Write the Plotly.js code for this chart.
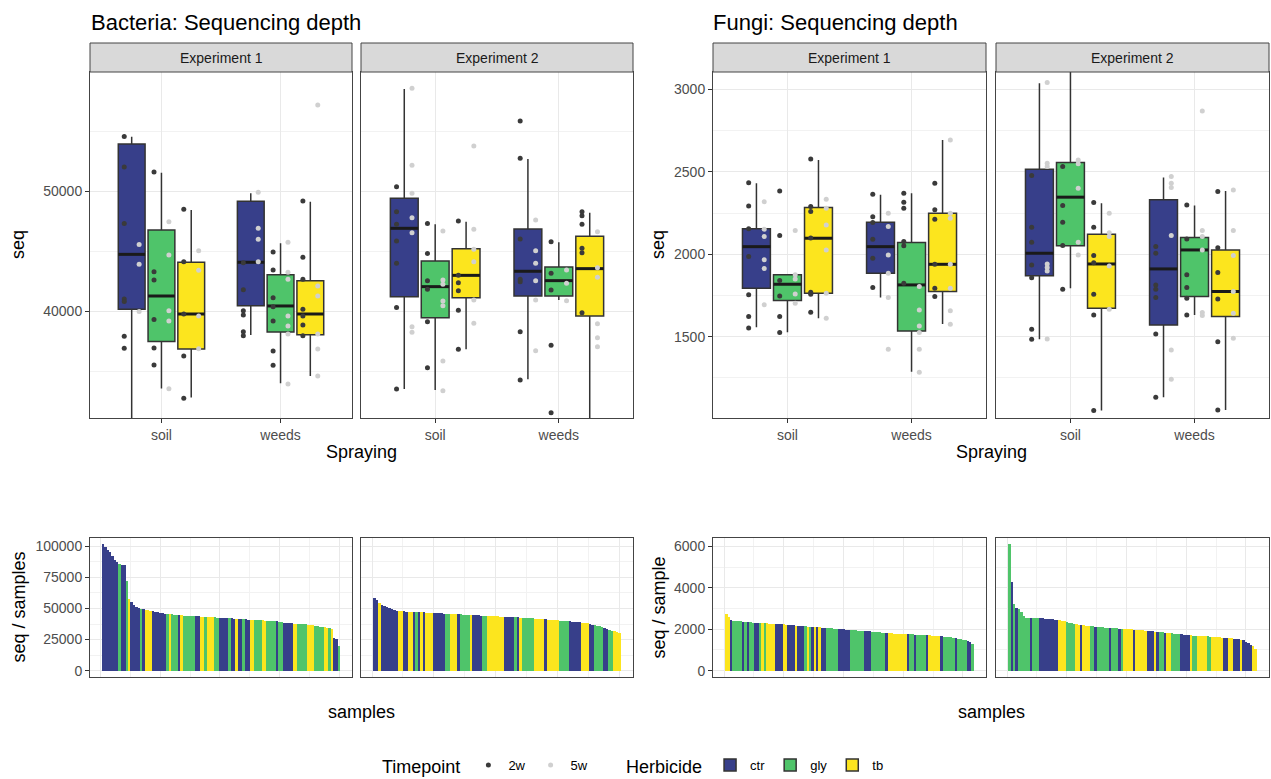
<!DOCTYPE html>
<html>
<head>
<meta charset="utf-8">
<script src="https://cdn.plot.ly/plotly-3.0.1.min.js"></script>
<style>
html,body{margin:0;padding:0;background:#fff;}
#chart{width:1271px;height:779px;}
</style>
</head>
<body>
<div id="chart"></div>
<script>
// ---------------- DATA ----------------
const spraying = ['soil', 'weeds'];
const herbicides = ['ctr', 'gly', 'tb'];
const timepoints = ['2w', '5w'];
const experiments = ['Experiment 1', 'Experiment 2'];
const figureTitles = ['Bacteria: Sequencing depth', 'Fungi: Sequencing depth'];

// Box statistics, nested [herbicide][spraying]
const bactE1Lower  = [[28500, 38000], [33550, 33970], [32800, 34580]];
const bactE1Q1     = [[40140, 40440], [37450, 38250], [36830, 38030]];
const bactE1Median = [[44720, 44060], [41250, 40420], [39750, 39750]];
const bactE1Q3     = [[53920, 49140], [46750, 43030], [44060, 42530]];
const bactE1Upper  = [[54530, 49810], [51530, 45640], [48420, 49110]];

const bactE2Lower  = [[33500, 34310], [33420, 40920], [36810, 28500]];
const bactE2Q1     = [[41190, 41250], [39440, 41250], [41110, 39580]];
const bactE2Median = [[46890, 43310], [42030, 42530], [42970, 43530]];
const bactE2Q3     = [[49390, 46830], [44170, 43670], [45190, 46220]];
const bactE2Upper  = [[58500, 52670], [47220, 45720], [47440, 48190]];

const fungE1Lower  = [[1557, 1737], [1527, 1288], [1612, 1577]];
const fungE1Q1     = [[1794, 1885], [1719, 1535], [1763, 1774]];
const fungE1Median = [[2046, 2046], [1818, 1814], [2097, 1939]];
const fungE1Q3     = [[2154, 2194], [1875, 2071], [2283, 2249]];
const fungE1Upper  = [[2431, 2360], [1875, 2370], [2572, 2693]];

const fungE2Lower  = [[1484, 1133], [1794, 1632], [1052, 1056]];
const fungE2Q1     = [[1869, 1571], [2051, 1743], [1672, 1622]];
const fungE2Median = [[2006, 1911], [2346, 2026], [1941, 1774]];
const fungE2Q3     = [[2516, 2330], [2556, 2101], [2121, 2026]];
const fungE2Upper  = [[3037, 2465], [3250, 2295], [2309, 2384]];

// Sample points, nested [herbicide][spraying][samples]
const bactE1Pts2w = [
  [[54550, 52000, 47300, 41000, 40800, 37900, 36900, 28500], [44030, 41780, 40030, 39670, 38280, 37940]],
  [[51580, 43280, 42580, 39300, 36920, 35500], [44920, 43420, 41110, 40360, 39170, 36670, 35470]],
  [[48470, 44110, 39750, 36250, 32720], [49170, 44470, 42640, 40140, 39580, 38830, 37940]]
];
const bactE1Pts5w = [
  [[45550, 43900, 39950], [49890, 46890, 45970, 44110]],
  [[47440, 44670, 40030, 39170, 33530], [45720, 43220, 42640, 39580, 38750, 38080, 33920]],
  [[45030, 43390, 39580, 36860], [57170, 42080, 41250, 38080, 36830, 34580]]
];
const bactE2Pts2w = [
  [[50360, 48280, 47220, 45830, 43970, 40300, 33500], [55830, 52720, 46000, 42640, 42440, 38280, 34250]],
  [[47300, 44800, 42530, 41810, 39110, 35280], [45780, 43140, 41750, 37140, 31530]],
  [[47500, 42970, 42360, 41690, 40060, 36810], [48280, 47940, 47220, 45220, 44860, 39860, 28500]]
];
const bactE2Pts5w = [
  [[58560, 52140, 49810, 47780, 46530, 38690, 38220], [47580, 45030, 43970, 42530, 40920, 36690]],
  [[46670, 42580, 42220, 40830, 40440, 35830, 33360], [43420, 42310, 40860]],
  [[53750, 46810, 45140, 44110, 40920, 38970], [46610, 43610, 42810, 38940, 37780, 37030]]
];
const fungE1Pts2w = [
  [[2433, 2293, 2154, 1986, 1755, 1622, 1553], [2364, 2228, 2192, 2091, 1976, 1798]],
  [[2384, 2113, 1840, 1747, 1622, 1525], [2370, 2315, 2279, 2077, 2051, 1824]],
  [[2578, 2289, 2259, 2099, 1770, 1757, 1648], [2431, 2269, 2212, 1939, 1794, 1743]]
];
const fungE1Pts5w = [
  [[2319, 2152, 2107, 1966, 1913, 1693], [2249, 2168, 1996, 1885, 1737, 1424]],
  [[2144, 1875, 1850, 1759, 1703], [1804, 1662, 1565, 1525, 1424, 1284]],
  [[2334, 2279, 2178, 2026, 1763, 1612], [2693, 2249, 2218, 1939, 1794, 1658, 1575]]
];
const fungE2Pts2w = [
  [[2477, 2164, 2073, 1935, 1858, 1545, 1484], [2047, 2006, 1814, 1788, 1737, 1517, 1133]],
  [[3250, 2532, 2295, 2194, 2053, 1788], [2299, 2093, 1875, 1798, 1733, 1632]],
  [[2313, 2164, 1992, 1949, 1757, 1632, 1052], [2380, 2040, 1889, 1729, 1470, 1056]]
];
const fungE2Pts5w = [
  [[3041, 2552, 2532, 1941, 1919, 1899, 1486], [2471, 2431, 2404, 2113, 1420, 1242]],
  [[2572, 2548, 2400, 2073, 1996], [2869, 2144, 2107, 2026, 1646, 1628]],
  [[2249, 2131, 2107, 1929, 1666], [2390, 2144, 1992, 1774, 1642, 1490]]
];

// Sequencing depth per sample (sorted), with herbicide code per sample (c=ctr, g=gly, t=tb)
const bactE1Depth = [
  101500, 99500, 97300, 95200, 92000, 88700, 87100, 85500, 85000, 84500,
  72000, 57500, 54800, 52500, 51200, 50400, 49800, 49300, 48900, 48500,
  48100, 47600, 47200, 46900, 46500, 46200, 45800, 45600, 45400, 45200,
  45000, 44800, 44600, 44500, 44300, 44200, 44100, 44000, 43900, 43800,
  43700, 43500, 43400, 43300, 43200, 43100, 43000, 42900, 42700, 42600,
  42500, 42400, 42200, 42100, 42000, 41900, 41700, 41600, 41500, 41300,
  41200, 41100, 41000, 40900, 40800, 40700, 40500, 40400, 40300, 40200,
  40100, 40000, 39800, 39600, 39300, 39000, 38700, 38400, 38200, 38000,
  37900, 37800, 37700, 37600, 37400, 37200, 37000, 36700, 36400, 36000,
  35600, 35300, 35000, 34700, 34300, 33900, 33300, 26000, 25300, 19600
];
const bactE1Herb = ('cccccccgcc' + 'gtccccgctt' + 'tccccccgtg' + 'ggctgggggc' + 'cttgtttggc' +
                    'cccgcctccg' + 'ccttgggttg' + 'gggcggcccc' + 'ttggggtttg' + 'gggttgtccg').split('');

const bactE2Depth = [
  58300, 56800, 54500, 53000, 52200, 51300, 50400, 49500, 48800, 48200,
  47900, 47700, 47600, 47500, 47400, 47300, 47200, 47100, 47000, 46900,
  46800, 46700, 46600, 46500, 46300, 46200, 46100, 46000, 45900, 45800,
  45700, 45600, 45500, 45400, 45300, 45200, 45100, 45000, 44900, 44800,
  44700, 44500, 44400, 44300, 44200, 44100, 44000, 43900, 43800, 43700,
  43600, 43500, 43400, 43300, 43200, 43100, 43000, 42900, 42800, 42600,
  42500, 42400, 42300, 42100, 42000, 41900, 41700, 41600, 41400, 41300,
  41100, 41000, 40800, 40600, 40400, 40200, 40000, 39900, 39800, 39600,
  39400, 39200, 39000, 38800, 38600, 38400, 38200, 37600, 37000, 36400,
  35900, 35500, 34800, 34100, 33400, 32800, 32200, 31700, 31200, 30600
];
const bactE2Herb = ('cctccccccc' + 'ttccttcgct' + 'ctttcccccg' + 'gtttcggggt' + 'ccccggtttt' +
                    'tttccccgct' + 'gggggttttc' + 'tttttggggc' + 'cccctttccg' + 'gggccggttt').split('');

const fungE1Depth = [
  2717, 2600, 2460, 2420, 2400, 2390, 2380, 2370, 2360, 2350,
  2340, 2320, 2310, 2300, 2295, 2290, 2285, 2280, 2275, 2270,
  2264, 2255, 2245, 2240, 2230, 2222, 2212, 2200, 2190, 2180,
  2172, 2160, 2150, 2140, 2130, 2119, 2110, 2100, 2092, 2085,
  2075, 2065, 2058, 2048, 2038, 2030, 2020, 2012, 2000, 1989,
  1980, 1972, 1962, 1955, 1946, 1938, 1930, 1922, 1915, 1908,
  1898, 1890, 1880, 1866, 1852, 1840, 1827, 1815, 1808, 1800,
  1795, 1790, 1786, 1782, 1779, 1772, 1766, 1760, 1752, 1745,
  1740, 1736, 1730, 1722, 1712, 1702, 1695, 1686, 1676, 1666,
  1655, 1645, 1632, 1620, 1605, 1588, 1569, 1550, 1530, 1505,
  1470, 1423, 1390, 1294
];
const fungE1Herb = ('ttcggggcgc' + 'ggccgtgttt' + 'tcccttccct' + 'cccgtgctct' + 'ccgggggccc' +
                    'ccggggggcc' + 'cggggggctt' + 'ttttttcggc' + 'ggggcttttt' + 'cgggggcggg' + 'gccg').split('');

const fungE2Depth = [
  6100, 4280, 3200, 3040, 2960, 2830, 2620, 2560, 2550, 2545,
  2540, 2535, 2530, 2525, 2520, 2510, 2500, 2490, 2480, 2470,
  2460, 2450, 2420, 2390, 2350, 2310, 2280, 2250, 2232, 2220,
  2205, 2190, 2180, 2165, 2150, 2140, 2130, 2118, 2105, 2092,
  2080, 2070, 2060, 2052, 2045, 2038, 2030, 2022, 2015, 2008,
  2000, 1993, 1985, 1978, 1970, 1960, 1948, 1935, 1922, 1910,
  1898, 1885, 1872, 1860, 1848, 1838, 1827, 1815, 1802, 1790,
  1778, 1765, 1752, 1740, 1728, 1716, 1705, 1698, 1690, 1682,
  1675, 1668, 1660, 1652, 1645, 1636, 1628, 1618, 1608, 1597,
  1585, 1575, 1565, 1555, 1543, 1530, 1515, 1498, 1472, 1400,
  1330, 1250, 1180, 1051
];
const fungE2Herb = ('gcgcgggggc' + 'gggccccccc' + 'ctttggggtt' + 'ctttggcggg' + 'ggcgggcgtt' +
                    'ttctttttcc' + 'ctcggcttgg' + 'ggcccctggt' + 'tttggttttt' + 'ccttccctcc' + 'cctt').split('');

// ---------------- STYLE / GEOMETRY ----------------
const W = 1271, H = 779;
const px = v => v / W;
const py = v => 1 - v / H;
const FONT = 'Liberation Sans, Arial, Helvetica, sans-serif';
const herbColors = {ctr: '#373f8a', gly: '#4fc46a', tb: '#fce51e'};
const codeToHerb = {c: 'ctr', g: 'gly', t: 'tb'};
const tpColors = ['#3a3a3a', '#d0d0d0'];
const dodge = [-0.25, 0, 0.25];
const tpDodge = [-0.0625, 0.0625];
const boxWidth = 0.225;

const colsPx = [[90, 352], [361, 633], [713, 986], [996, 1269]];
const topRow = [72, 418], botRow = [538, 677], stripRow = [43, 72];

const topPanels = [
  {stats: [bactE1Lower, bactE1Q1, bactE1Median, bactE1Q3, bactE1Upper], pts: [bactE1Pts2w, bactE1Pts5w]},
  {stats: [bactE2Lower, bactE2Q1, bactE2Median, bactE2Q3, bactE2Upper], pts: [bactE2Pts2w, bactE2Pts5w]},
  {stats: [fungE1Lower, fungE1Q1, fungE1Median, fungE1Q3, fungE1Upper], pts: [fungE1Pts2w, fungE1Pts5w]},
  {stats: [fungE2Lower, fungE2Q1, fungE2Median, fungE2Q3, fungE2Upper], pts: [fungE2Pts2w, fungE2Pts5w]}
];
const botPanels = [
  {depth: bactE1Depth, herb: bactE1Herb},
  {depth: bactE2Depth, herb: bactE2Herb},
  {depth: fungE1Depth, herb: fungE1Herb},
  {depth: fungE2Depth, herb: fungE2Herb}
];

// ---------------- TRACES ----------------
const boxTraces = [], medianTraces = [], pointTraces = [], barTraces = [];

topPanels.forEach((p, k) => {
  const xa = 'x' + (k + 1), ya = 'y' + (k + 1);
  const [lo, q1, med, q3, hi] = p.stats;
  herbicides.forEach((h, hi_) => {
    boxTraces.push({
      type: 'box', xaxis: xa, yaxis: ya,
      x: spraying.map((s, si) => si + dodge[hi_]),
      lowerfence: lo[hi_], q1: q1[hi_], median: med[hi_], q3: q3[hi_], upperfence: hi[hi_],
      width: boxWidth, whiskerwidth: 0, boxpoints: false,
      fillcolor: herbColors[h], line: {color: '#333333', width: 1.5},
      name: h, legend: 'legend2', legendgroup: h, showlegend: k === 0, hoverinfo: 'skip'
    });
  });
  // thick median bars (ggplot style)
  const mx = [], my = [];
  herbicides.forEach((h, hi_) => {
    spraying.forEach((s, si) => {
      const c = si + dodge[hi_];
      mx.push(c - boxWidth / 2, c + boxWidth / 2, null);
      my.push(med[hi_][si], med[hi_][si], null);
    });
  });
  medianTraces.push({
    type: 'scatter', mode: 'lines', xaxis: xa, yaxis: ya, x: mx, y: my,
    line: {color: '#1a1a1a', width: 3}, showlegend: false, hoverinfo: 'skip'
  });
  timepoints.forEach((t, ti) => {
    const x = [], y = [];
    herbicides.forEach((h, hi_) => {
      spraying.forEach((s, si) => {
        p.pts[ti][hi_][si].forEach(v => { x.push(si + dodge[hi_] + tpDodge[ti]); y.push(v); });
      });
    });
    pointTraces.push({
      type: 'scatter', mode: 'markers', xaxis: xa, yaxis: ya, x, y,
      marker: {size: 5, color: tpColors[ti]},
      name: t, legend: 'legend', legendgroup: t, showlegend: k === 0, hoverinfo: 'skip'
    });
  });
});

botPanels.forEach((p, k) => {
  const idx = k + 5;
  barTraces.push({
    type: 'bar', xaxis: 'x' + idx, yaxis: 'y' + idx,
    x: p.depth.map((v, i) => i + 1), y: p.depth,
    marker: {color: p.depth.map((v, i) => herbColors[codeToHerb[p.herb[i]] || 'ctr']), line: {width: 0}},
    showlegend: false, hoverinfo: 'skip'
  });
});

// ---------------- LAYOUT ----------------
function expand(lo, hi) { const d = (hi - lo) * 0.05; return [lo - d, hi + d]; }

function baseAxis(domain) {
  return {
    domain, showline: true, mirror: true, linecolor: '#444444', linewidth: 1,
    zeroline: false, showgrid: true, gridcolor: '#e9e9e9', gridwidth: 1,
    tickfont: {size: 14, color: '#4d4d4d', family: FONT},
    ticks: 'outside', ticklen: 4, tickcolor: '#333333', tickwidth: 1, fixedrange: true
  };
}
const minorGrid = vals => ({tickmode: 'array', tickvals: vals, showgrid: true, gridcolor: '#f2f2f2', gridwidth: 1, ticks: ''});

const layout = {
  width: W, height: H,
  margin: {l: 0, r: 0, t: 0, b: 0, autoexpand: false},
  paper_bgcolor: '#ffffff', plot_bgcolor: '#ffffff',
  font: {family: FONT, color: '#000000'},
  showlegend: true, bargap: 0,
  shapes: [], annotations: []
};

const bactBarRange = expand(0, Math.max(...bactE1Depth, ...bactE2Depth));
const fungBarRange = expand(0, Math.max(...fungE1Depth, ...fungE2Depth));
const bactN = Math.max(bactE1Depth.length, bactE2Depth.length);
const fungN = Math.max(fungE1Depth.length, fungE2Depth.length);

colsPx.forEach((c, k) => {
  const isBact = k < 2, first = (k % 2 === 0);
  // top boxplot panel
  const xt = baseAxis([px(c[0]), px(c[1])]);
  Object.assign(xt, {anchor: 'y' + (k + 1), range: [-0.6, 1.6], tickmode: 'array', tickvals: [0, 1], ticktext: spraying});
  const yt = baseAxis([py(topRow[1]), py(topRow[0])]);
  Object.assign(yt, {anchor: 'x' + (k + 1), tickmode: 'array', tickformat: 'd'});
  if (isBact) {
    yt.range = [31083, 59917]; yt.tickvals = [40000, 50000];
    yt.minor = minorGrid([35000, 45000, 55000]);
  } else {
    yt.range = [1007, 3105]; yt.tickvals = [1500, 2000, 2500, 3000];
    yt.minor = minorGrid([1250, 1750, 2250, 2750]);
  }
  if (!first) { yt.showticklabels = false; yt.ticks = ''; }
  layout['xaxis' + (k + 1)] = xt;
  layout['yaxis' + (k + 1)] = yt;

  // bottom bar panel
  const n = isBact ? bactN : fungN;
  const xb = baseAxis([px(c[0]), px(c[1])]);
  Object.assign(xb, {anchor: 'y' + (k + 5), range: expand(0.55, n + 0.45), tickmode: 'array',
    tickvals: [0, 25, 50, 75, 100], showticklabels: false, ticks: '',
    minor: minorGrid([12.5, 37.5, 62.5, 87.5])});
  const yb = baseAxis([py(botRow[1]), py(botRow[0])]);
  Object.assign(yb, {anchor: 'x' + (k + 5), tickmode: 'array', tickformat: 'd'});
  if (isBact) {
    yb.range = bactBarRange; yb.tickvals = [0, 25000, 50000, 75000, 100000];
    yb.minor = minorGrid([12500, 37500, 62500, 87500]);
  } else {
    yb.range = fungBarRange; yb.tickvals = [0, 2000, 4000, 6000];
    yb.minor = minorGrid([1000, 3000, 5000]);
  }
  if (!first) { yb.showticklabels = false; yb.ticks = ''; }
  layout['xaxis' + (k + 5)] = xb;
  layout['yaxis' + (k + 5)] = yb;

  // facet strip
  layout.shapes.push({type: 'rect', xref: 'paper', yref: 'paper',
    x0: px(c[0]), x1: px(c[1]), y0: py(stripRow[1]), y1: py(stripRow[0]),
    fillcolor: '#d9d9d9', line: {color: '#444444', width: 1}, layer: 'above'});
  layout.annotations.push({xref: 'paper', yref: 'paper', x: px((c[0] + c[1]) / 2), y: py((stripRow[0] + stripRow[1]) / 2),
    text: experiments[k % 2], showarrow: false, xanchor: 'center', yanchor: 'middle',
    font: {size: 14, color: '#1a1a1a', family: FONT}});
});

function ann(text, x, y, size, opts) {
  return Object.assign({xref: 'paper', yref: 'paper', x: px(x), y: py(y), text, showarrow: false,
    xanchor: 'center', yanchor: 'middle', font: {size, color: '#000000', family: FONT}}, opts || {});
}
layout.annotations.push(
  ann(figureTitles[0], 89, 22, 22, {xanchor: 'left'}),
  ann(figureTitles[1], 711, 22, 22, {xanchor: 'left'}),
  ann('seq', 18, (topRow[0] + topRow[1]) / 2, 18, {textangle: -90}),
  ann('seq', 658, (topRow[0] + topRow[1]) / 2, 18, {textangle: -90}),
  ann('Spraying', (colsPx[0][0] + colsPx[1][1]) / 2, 452, 18),
  ann('Spraying', (colsPx[2][0] + colsPx[3][1]) / 2, 452, 18),
  ann('seq / samples', 18, (botRow[0] + botRow[1]) / 2, 18, {textangle: -90}),
  ann('seq / sample', 658, (botRow[0] + botRow[1]) / 2, 18, {textangle: -90}),
  ann('samples', (colsPx[0][0] + colsPx[1][1]) / 2, 712, 18),
  ann('samples', (colsPx[2][0] + colsPx[3][1]) / 2, 712, 18)
);

layout.legend = {
  title: {text: 'Timepoint', font: {size: 18, color: '#000000', family: FONT}, side: 'left'},
  orientation: 'h', x: px(380), xanchor: 'left', y: py(767), yanchor: 'middle',
  font: {size: 13, color: '#000000', family: FONT}, bgcolor: 'rgba(0,0,0,0)', borderwidth: 0,
  traceorder: 'normal'
};
layout.legend2 = {
  title: {text: 'Herbicide', font: {size: 18, color: '#000000', family: FONT}, side: 'left'},
  orientation: 'h', x: px(624), xanchor: 'left', y: py(767), yanchor: 'middle',
  font: {size: 13, color: '#000000', family: FONT}, bgcolor: 'rgba(0,0,0,0)', borderwidth: 0,
  traceorder: 'normal'
};

const data = [].concat(barTraces, boxTraces, medianTraces, pointTraces);
Plotly.newPlot('chart', data, layout, {displayModeBar: false, staticPlot: true});
</script>
</body>
</html>
